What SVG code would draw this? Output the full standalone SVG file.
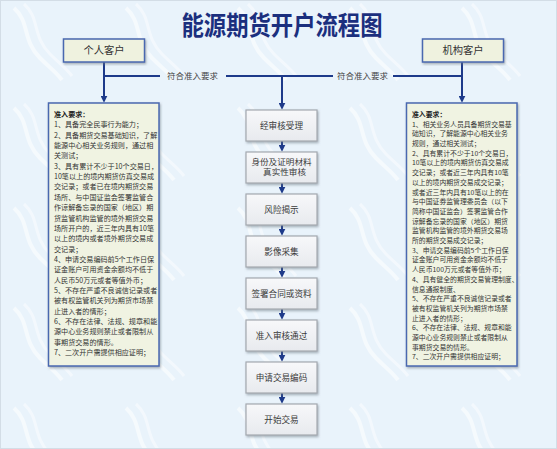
<svg xmlns="http://www.w3.org/2000/svg" width="557" height="449" viewBox="0 0 557 449">
<defs>
<style>
.cjk{font-family:"Noto Sans CJK SC","Noto Sans",sans-serif;}
.title{font-size:26px;font-weight:bold;fill:#1b2f7e;}
.cust{fill:#eff2df;stroke:#4a68b0;stroke-width:1.5;}
.custtxt{font-size:10.3px;fill:#333;text-anchor:middle;}
.req{fill:#f0f3e2;stroke:#4a68b0;stroke-width:1.5;}
.reqL{font-size:7.1px;fill:#333;}
.reqR{font-size:6.6px;fill:#333;}
.b{font-weight:bold;fill:#222;}
.step{fill:url(#stepg);stroke:#a4a9b0;stroke-width:1.2;}
.steptxt{font-size:8.6px;fill:#3a3a3a;text-anchor:middle;}
.lbl{font-size:8.5px;fill:#444;text-anchor:middle;}
.conn{fill:none;stroke:#1d3a8a;stroke-width:2;}
.arr{fill:none;stroke:#1d3a8a;stroke-width:2;marker-end:url(#ah);}
</style>
<linearGradient id="stepg" x1="0" y1="0" x2="0" y2="1">
<stop offset="0" stop-color="#f7f8fa"/>
<stop offset="1" stop-color="#e8eaee"/>
</linearGradient>
<marker id="ah" viewBox="0 0 8 8" refX="5" refY="4" markerWidth="7" markerHeight="7" markerUnits="userSpaceOnUse" orient="auto">
<path d="M0,0 L8,4 L0,8 z" fill="#1d3a8a"/>
</marker>
<filter id="sh" x="-10%" y="-10%" width="125%" height="125%">
<feDropShadow dx="1" dy="1.5" stdDeviation="0.8" flood-color="#6b7480" flood-opacity="0.55"/>
</filter>
<pattern id="wave" width="112" height="100" patternUnits="userSpaceOnUse">
<path d="M14,8 C30,22 22,40 40,58 C50,68 56,72 62,80" fill="none" stroke="#ffffff" stroke-width="4" opacity="0.55"/>
<path d="M24,4 C40,18 32,36 50,54 C60,64 66,68 72,76" fill="none" stroke="#ffffff" stroke-width="3" opacity="0.45"/>
</pattern>
</defs>

<rect x="0" y="0" width="557" height="449" fill="#e9f3fb"/>
<rect x="0" y="0" width="557" height="449" fill="url(#wave)"/>
<rect x="0.5" y="0.5" width="556" height="448" fill="none" stroke="#d3dde6"/>

<g id="title">
<text class="cjk title" transform="translate(282,34.5) scale(0.86,1)" text-anchor="middle">能源期货开户流程图</text>
</g>

<g id="connectors">
<path class="conn" d="M104,62 V76 H160 M226,76 H333 M393,76 H462 V62"/>
<path class="arr" d="M104,76 V100"/>
<path class="arr" d="M462,76 V100"/>
<path class="arr" d="M282,76 V107"/>
<path class="arr" d="M282,141 V149"/>
<path class="arr" d="M282,183 V191"/>
<path class="arr" d="M282,225 V233"/>
<path class="arr" d="M282,267 V275"/>
<path class="arr" d="M282,309 V317"/>
<path class="arr" d="M282,351 V359"/>
<path class="arr" d="M282,393 V401"/>
<text class="cjk lbl" x="192.5" y="79">符合准入要求</text>
<text class="cjk lbl" x="362.5" y="79">符合准入要求</text>
</g>

<g id="individual">
<rect class="cust" x="63.5" y="39" width="81" height="23" filter="url(#sh)"/>
<text class="cjk custtxt" x="104" y="54.2">个人客户</text>
</g>

<g id="institution">
<rect class="cust" x="422.5" y="39" width="81" height="23" filter="url(#sh)"/>
<text class="cjk custtxt" x="463" y="54.2">机构客户</text>
</g>

<g id="req-individual">
<rect class="req" x="48.5" y="103" width="110.5" height="263" filter="url(#sh)"/>
<text class="cjk reqL"><tspan class="b" x="54" y="117">准入要求：</tspan><tspan x="54" y="127.35">1、具备完全民事行为能力；</tspan><tspan x="54" y="137.7">2、具备期货交易基础知识，了解</tspan><tspan x="54" y="148.05">能源中心相关业务规则，通过相</tspan><tspan x="54" y="158.4">关测试；</tspan><tspan x="54" y="168.75">3、具有累计不少于10个交易日，</tspan><tspan x="54" y="179.1">10笔以上的境内期货仿真交易成</tspan><tspan x="54" y="189.45">交记录；或者已在境内期货交易</tspan><tspan x="54" y="199.8">场所、与中国证监会签署监管合</tspan><tspan x="54" y="210.15">作谅解备忘录的国家（地区）期</tspan><tspan x="54" y="220.5">货监管机构监管的境外期货交易</tspan><tspan x="54" y="230.85">场所开户的，近三年内具有10笔</tspan><tspan x="54" y="241.2">以上的境内或者境外期货交易成</tspan><tspan x="54" y="251.55">交记录；</tspan><tspan x="54" y="261.9">4、申请交易编码前5个工作日保</tspan><tspan x="54" y="272.25">证金账户可用资金余额均不低于</tspan><tspan x="54" y="282.6">人民币50万元或者等值外币；</tspan><tspan x="54" y="292.95">5、不存在严重不良诚信记录或者</tspan><tspan x="54" y="303.3">被有权监管机关列为期货市场禁</tspan><tspan x="54" y="313.65">止进入者的情形；</tspan><tspan x="54" y="324">6、不存在法律、法规、规章和能</tspan><tspan x="54" y="334.35">源中心业务规则禁止或者限制从</tspan><tspan x="54" y="344.7">事期货交易的情形。</tspan><tspan x="54" y="355.05">7、二次开户需提供相应证明；</tspan></text>
</g>

<g id="req-institution">
<rect class="req" x="406.5" y="103" width="110.5" height="263" filter="url(#sh)"/>
<text class="cjk reqR" transform="translate(412,0) scale(1.04,1)"><tspan class="b" x="0" y="117">准入要求：</tspan><tspan x="0" y="126.7">1、相关业务人员具备期货交易基</tspan><tspan x="0" y="136.4">础知识，了解能源中心相关业务</tspan><tspan x="0" y="146.1">规则，通过相关测试；</tspan><tspan x="0" y="155.8">2、具有累计不少于10个交易日，</tspan><tspan x="0" y="165.5">10笔以上的境内期货仿真交易成</tspan><tspan x="0" y="175.2">交记录；或者近三年内具有10笔</tspan><tspan x="0" y="184.9">以上的境内期货交易成交记录；</tspan><tspan x="0" y="194.6">或者近三年内具有10笔以上的在</tspan><tspan x="0" y="204.3">与中国证券监管理委员会（以下</tspan><tspan x="0" y="214">简称中国证监会）签署监管合作</tspan><tspan x="0" y="223.7">谅解备忘录的国家（地区）期货</tspan><tspan x="0" y="233.4">监管机构监管的境外期货交易场</tspan><tspan x="0" y="243.1">所的期货交易成交记录；</tspan><tspan x="0" y="252.8">3、申请交易编码前5个工作日保</tspan><tspan x="0" y="262.5">证金账户可用资金余额均不低于</tspan><tspan x="0" y="272.2">人民币100万元或者等值外币；</tspan><tspan x="0" y="281.9">4、具有健全的期货交易管理制度、</tspan><tspan x="0" y="291.6">信息通报制度、</tspan><tspan x="0" y="301.3">5、不存在严重不良诚信记录或者</tspan><tspan x="0" y="311">被有权监管机关列为期货市场禁</tspan><tspan x="0" y="320.7">止进入者的情形；</tspan><tspan x="0" y="330.4">6、不存在法律、法规、规章和能</tspan><tspan x="0" y="340.1">源中心业务规则禁止或者限制从</tspan><tspan x="0" y="349.8">事期货交易的情形。</tspan><tspan x="0" y="359.5">7、二次开户需提供相应证明；</tspan></text>
</g>

<g id="step1">
<rect class="step" x="246" y="110" width="71" height="31" filter="url(#sh)"/>
<text class="cjk steptxt" x="281.5" y="128.8">经审核受理</text>
</g>
<g id="step2">
<rect class="step" x="246" y="152" width="71" height="31" filter="url(#sh)"/>
<text class="cjk steptxt" transform="translate(281.5,0) scale(1,0.9)"><tspan x="0" y="183">身份及证明材料</tspan><tspan x="3" y="194.9">真实性审核</tspan></text>
</g>
<g id="step3">
<rect class="step" x="246" y="194" width="71" height="31" filter="url(#sh)"/>
<text class="cjk steptxt" x="281.5" y="212.8">风险揭示</text>
</g>
<g id="step4">
<rect class="step" x="246" y="236" width="71" height="31" filter="url(#sh)"/>
<text class="cjk steptxt" x="281.5" y="254.8">影像采集</text>
</g>
<g id="step5">
<rect class="step" x="246" y="278" width="71" height="31" filter="url(#sh)"/>
<text class="cjk steptxt" x="281.5" y="296.8">签署合同或资料</text>
</g>
<g id="step6">
<rect class="step" x="246" y="320" width="71" height="31" filter="url(#sh)"/>
<text class="cjk steptxt" x="281.5" y="338.8">准入审核通过</text>
</g>
<g id="step7">
<rect class="step" x="246" y="362" width="71" height="31" filter="url(#sh)"/>
<text class="cjk steptxt" x="281.5" y="380.8">申请交易编码</text>
</g>
<g id="step8">
<rect class="step" x="246" y="404" width="71" height="31" filter="url(#sh)"/>
<text class="cjk steptxt" x="281.5" y="422.8">开始交易</text>
</g>
</svg>
